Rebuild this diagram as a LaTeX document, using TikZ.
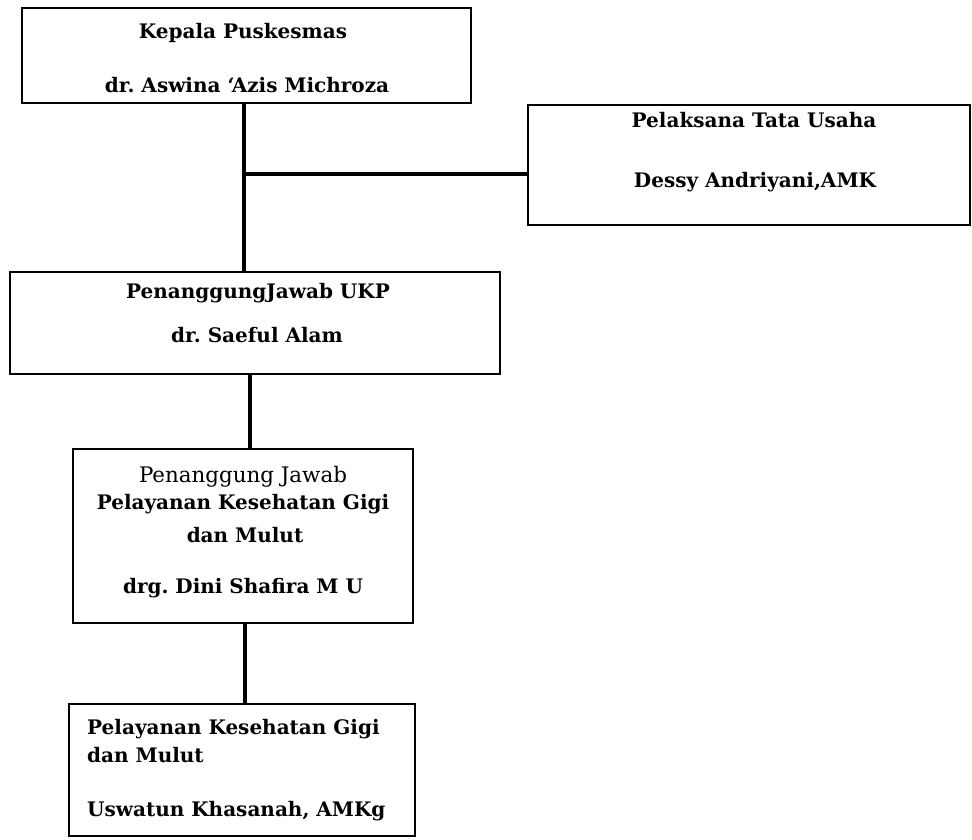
\documentclass[tikz,border=0pt]{standalone}
\usepackage{fontspec}
\setmainfont{DejaVu Serif}
\frenchspacing
\begin{document}
\begin{tikzpicture}[x=1pt,y=-1pt,
  box/.style={draw=black,line width=2.6pt,rectangle,inner sep=0pt},
  conn/.style={draw=black,line width=3.6pt},
  bt/.style={font=\bfseries\fontsize{20}{24}\selectfont,inner sep=0pt,anchor=base},
  rt/.style={font=\fontsize{21.4}{25}\selectfont,inner sep=0pt,anchor=base},
  btl/.style={bt,anchor=base west}]
\useasboundingbox (0,0) rectangle (972,839);
% boxes
\node[box,minimum width=449pt,minimum height=95pt] (b1) at (246.5,55.5) {};
\node[box,minimum width=442pt,minimum height=120pt] (b2) at (749,165) {};
\node[box,minimum width=490pt,minimum height=102pt] (b3) at (255,323) {};
\node[box,minimum width=340pt,minimum height=174pt] (b4) at (243,536) {};
\node[box,minimum width=346pt,minimum height=132pt] (b5) at (242,770) {};
% texts
\node[bt] (t1a) at (243,38) {Kepala Puskesmas};
\node[bt] (t1b) at (247,92) {dr. Aswina ‘Azis Michroza};
\node[bt] (t2a) at (754,127) {Pelaksana Tata Usaha};
\node[bt] (t2b) at (755,187) {Dessy Andriyani,AMK};
\node[bt] (t3a) at (258,298) {PenanggungJawab UKP};
\node[bt] (t3b) at (257,342) {dr. Saeful Alam};
\node[rt] (t4a) at (243,482) {Penanggung Jawab};
\node[bt] (t4b) at (243,509) {Pelayanan Kesehatan Gigi};
\node[bt] (t4c) at (245,542) {dan Mulut};
\node[bt] (t4d) at (243,593) {drg. Dini Shafira M U};
\node[btl] (t5a) at (87,734) {Pelayanan Kesehatan Gigi};
\node[btl] (t5b) at (87,762) {dan Mulut};
\node[btl] (t5c) at (87,816) {Uswatun Khasanah, AMKg};
% connectors
\coordinate (jt) at (244,174);
\draw[conn] (244,0 |- b1.south) -- (244,0 |- b3.north);
\draw[conn] (jt) -- (b2.west |- jt);
\draw[conn] (250,0 |- b3.south) -- (250,0 |- b4.north);
\draw[conn] (245,0 |- b4.south) -- (245,0 |- b5.north);
\end{tikzpicture}
\end{document}
